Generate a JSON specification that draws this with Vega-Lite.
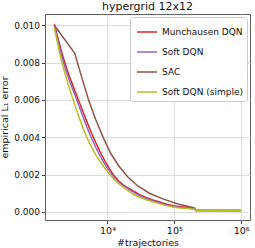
{
  "$schema": "https://vega.github.io/schema/vega-lite/v6.json",
  "width": 205,
  "height": 206,
  "autosize": "none",
  "padding": {"left": 45, "top": 14, "right": 5, "bottom": 28},
  "background": "white",
  "config": {
    "font": "DejaVu Sans",
    "view": {"stroke": "#606060", "strokeWidth": 1},
    "axis": {"gridColor": "#dddddd", "gridWidth": 1, "tickColor": "#404040", "domain": false, "labelColor": "#111", "titleColor": "#111", "labelFontWeight": "normal", "titleFontWeight": "normal"}
  },
  "title": {"text": "hypergrid 12x12", "fontSize": 11, "fontWeight": "normal", "offset": 2, "anchor": "middle", "color": "#111"},
  "data": {"values": [
    {"method": "Munchausen DQN", "n": 1600, "err": 0.01005},
    {"method": "Munchausen DQN", "n": 2291, "err": 0.0080},
    {"method": "Munchausen DQN", "n": 3673, "err": 0.0060},
    {"method": "Munchausen DQN", "n": 6124, "err": 0.0040},
    {"method": "Munchausen DQN", "n": 12220, "err": 0.0020},
    {"method": "Munchausen DQN", "n": 28000, "err": 0.0010},
    {"method": "Munchausen DQN", "n": 64000, "err": 0.0005},
    {"method": "Munchausen DQN", "n": 100000, "err": 0.00032},
    {"method": "Munchausen DQN", "n": 200000, "err": 0.00018},
    {"method": "Munchausen DQN", "n": 210000, "err": 0.00008},
    {"method": "Munchausen DQN", "n": 1000000, "err": 0.00008},
    {"method": "Soft DQN", "n": 1600, "err": 0.0100},
    {"method": "Soft DQN", "n": 2198, "err": 0.0080},
    {"method": "Soft DQN", "n": 3467, "err": 0.0060},
    {"method": "Soft DQN", "n": 5677, "err": 0.0040},
    {"method": "Soft DQN", "n": 11600, "err": 0.0020},
    {"method": "Soft DQN", "n": 26100, "err": 0.0010},
    {"method": "Soft DQN", "n": 58000, "err": 0.0005},
    {"method": "Soft DQN", "n": 100000, "err": 0.00028},
    {"method": "Soft DQN", "n": 200000, "err": 0.00016},
    {"method": "Soft DQN", "n": 210000, "err": 0.00008},
    {"method": "Soft DQN", "n": 1000000, "err": 0.00008},
    {"method": "SAC", "n": 1600, "err": 0.0100},
    {"method": "SAC", "n": 3236, "err": 0.0085},
    {"method": "SAC", "n": 4046, "err": 0.0073},
    {"method": "SAC", "n": 5212, "err": 0.0060},
    {"method": "SAC", "n": 6683, "err": 0.00494},
    {"method": "SAC", "n": 8650, "err": 0.00398},
    {"method": "SAC", "n": 11200, "err": 0.00313},
    {"method": "SAC", "n": 14760, "err": 0.00246},
    {"method": "SAC", "n": 20140, "err": 0.00187},
    {"method": "SAC", "n": 28450, "err": 0.00139},
    {"method": "SAC", "n": 43030, "err": 0.00099},
    {"method": "SAC", "n": 67420, "err": 0.0007},
    {"method": "SAC", "n": 113200, "err": 0.00043},
    {"method": "SAC", "n": 200000, "err": 0.00022},
    {"method": "SAC", "n": 210000, "err": 0.00009},
    {"method": "SAC", "n": 1000000, "err": 0.00008},
    {"method": "Soft DQN (simple)", "n": 1600, "err": 0.00985},
    {"method": "Soft DQN (simple)", "n": 2083, "err": 0.0080},
    {"method": "Soft DQN (simple)", "n": 3070, "err": 0.0060},
    {"method": "Soft DQN (simple)", "n": 4898, "err": 0.0040},
    {"method": "Soft DQN (simple)", "n": 10830, "err": 0.0020},
    {"method": "Soft DQN (simple)", "n": 23100, "err": 0.0010},
    {"method": "Soft DQN (simple)", "n": 52000, "err": 0.0005},
    {"method": "Soft DQN (simple)", "n": 100000, "err": 0.00025},
    {"method": "Soft DQN (simple)", "n": 200000, "err": 0.00014},
    {"method": "Soft DQN (simple)", "n": 210000, "err": 0.00007},
    {"method": "Soft DQN (simple)", "n": 450000, "err": 0.00008},
    {"method": "Soft DQN (simple)", "n": 1000000, "err": 0.00007}
  ]},
  "encoding": {
    "x": {
      "field": "n", "type": "quantitative", "title": "#trajectories",
      "scale": {"type": "log", "domain": [1160, 1360000], "nice": false},
      "axis": {"values": [10000, 100000, 1000000], "labelExpr": "datum.value == 10000 ? '10⁴' : datum.value == 100000 ? '10⁵' : '10⁶'", "labelFontSize": 9.5, "titleFontSize": 9.5, "tickSize": 3.5, "labelPadding": 2, "titlePadding": 2}
    },
    "y": {
      "field": "err", "type": "quantitative", "title": "empirical L₁ error",
      "scale": {"domain": [-0.00043, 0.0106], "nice": false, "zero": false},
      "axis": {"values": [0, 0.002, 0.004, 0.006, 0.008, 0.01], "format": ".3f", "labelFontSize": 9, "titleFontSize": 9.5, "tickSize": 3.5, "labelPadding": 2, "titlePadding": 4}
    },
    "color": {
      "field": "method", "type": "nominal",
      "scale": {"domain": ["Munchausen DQN", "Soft DQN", "SAC", "Soft DQN (simple)"], "range": ["#d62728", "#9467bd", "#8c564b", "#bcbd22"]},
      "legend": {"title": null, "orient": "top-right", "offset": 3, "symbolType": "stroke", "symbolSize": 400, "symbolStrokeWidth": 1.5, "labelFontSize": 9, "labelColor": "#111", "fillColor": "white", "strokeColor": "#cccccc", "cornerRadius": 3, "padding": 4, "rowPadding": 4, "symbolOffset": 2}
    },
    "order": {"field": "n", "type": "quantitative"}
  },
  "layer": [
    {
      "transform": [{"filter": "datum.method == 'SAC'"}],
      "mark": {"type": "line", "strokeWidth": 1.5, "clip": true}
    },
    {
      "transform": [{"filter": "datum.method != 'SAC'"}],
      "mark": {"type": "line", "strokeWidth": 1.5, "clip": true, "interpolate": "monotone"}
    }
  ]
}
